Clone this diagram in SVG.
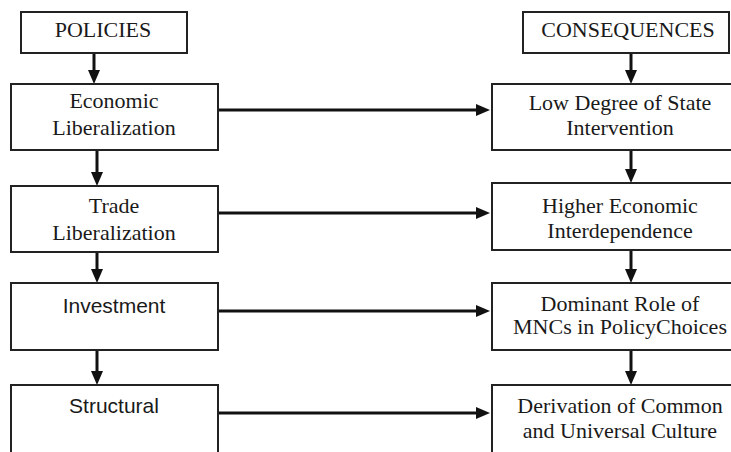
<svg xmlns="http://www.w3.org/2000/svg" width="731" height="452" viewBox="0 0 731 452">
<style>
.box{fill:#fff;stroke:#222;stroke-width:2}
.t{font-family:"Liberation Serif","Times New Roman",serif;font-size:22px;fill:#1a1a1a;text-anchor:middle}
.s{font-family:"Liberation Sans",Arial,sans-serif;font-size:21px;fill:#1a1a1a;text-anchor:middle}
.c{stroke:#111;stroke-width:3;fill:none}
</style>
<defs>
<marker id="ah" markerUnits="userSpaceOnUse" markerWidth="14" markerHeight="12" refX="2" refY="6" orient="auto">
<path d="M0,0 L14,6 L0,12 z" fill="#111"/>
</marker>
</defs>
<rect width="731" height="452" fill="#fff"/>
<g id="connectors">
<line class="c" x1="94" y1="53" x2="94" y2="72" marker-end="url(#ah)"/>
<line class="c" x1="97" y1="150" x2="97" y2="174" marker-end="url(#ah)"/>
<line class="c" x1="97" y1="252" x2="97" y2="271" marker-end="url(#ah)"/>
<line class="c" x1="97" y1="350" x2="97" y2="373" marker-end="url(#ah)"/>
<line class="c" x1="631" y1="53" x2="631" y2="72" marker-end="url(#ah)"/>
<line class="c" x1="631" y1="150" x2="631" y2="171" marker-end="url(#ah)"/>
<line class="c" x1="631" y1="250" x2="631" y2="271" marker-end="url(#ah)"/>
<line class="c" x1="631" y1="350" x2="631" y2="373" marker-end="url(#ah)"/>
<line class="c" x1="218" y1="110" x2="478" y2="110" marker-end="url(#ah)"/>
<line class="c" x1="218" y1="213" x2="478" y2="213" marker-end="url(#ah)"/>
<line class="c" x1="218" y1="311" x2="478" y2="311" marker-end="url(#ah)"/>
<line class="c" x1="218" y1="413" x2="478" y2="413" marker-end="url(#ah)"/>
</g>
<g id="policies">
<rect class="box" x="21" y="12" width="166" height="41"/>
<text class="t" x="103" y="37">POLICIES</text>
</g>
<g id="economic-liberalization">
<rect class="box" x="11" y="84" width="207" height="66"/>
<text class="t" x="114" y="108">Economic</text>
<text class="t" x="114" y="135">Liberalization</text>
</g>
<g id="trade-liberalization">
<rect class="box" x="11" y="186" width="207" height="66"/>
<text class="t" x="114" y="213">Trade</text>
<text class="t" x="114" y="240">Liberalization</text>
</g>
<g id="investment">
<rect class="box" x="11" y="283" width="207" height="67"/>
<text class="s" x="114" y="313">Investment</text>
</g>
<g id="structural">
<rect class="box" x="11" y="385" width="207" height="80"/>
<text class="s" x="114" y="413">Structural</text>
</g>
<g id="consequences">
<rect class="box" x="523" y="12" width="206" height="41"/>
<text class="t" x="628" y="37">CONSEQUENCES</text>
</g>
<g id="low-degree">
<rect class="box" x="492" y="84" width="260" height="66"/>
<text class="t" x="620" y="110">Low Degree of State</text>
<text class="t" x="620" y="135">Intervention</text>
</g>
<g id="higher-interdependence">
<rect class="box" x="492" y="183" width="260" height="67"/>
<text class="t" x="620" y="213">Higher Economic</text>
<text class="t" x="620" y="238">Interdependence</text>
</g>
<g id="dominant-role">
<rect class="box" x="492" y="283" width="260" height="67"/>
<text class="t" x="620" y="311">Dominant Role of</text>
<text class="t" x="620" y="334">MNCs in PolicyChoices</text>
</g>
<g id="derivation-culture">
<rect class="box" x="492" y="385" width="260" height="80"/>
<text class="t" x="620" y="413">Derivation of Common</text>
<text class="t" x="620" y="438">and Universal Culture</text>
</g>
</svg>
